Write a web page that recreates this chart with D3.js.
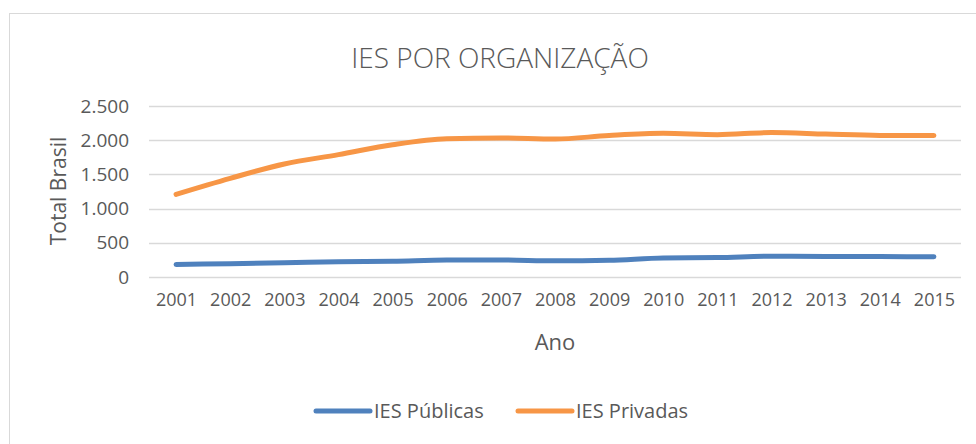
<!DOCTYPE html>
<html>
<head>
<meta charset="utf-8">
<script src="https://cdn.jsdelivr.net/npm/d3@7/dist/d3.min.js"></script>
<style>
  html, body { margin: 0; padding: 0; background: #fff; }
  svg { display: block; }
  svg text { font-family: "Open Sans", "Noto Sans", sans-serif; }
</style>
</head>
<body>
<svg id="chart" width="976" height="444"></svg>
<script>
// Instituições de ensino superior por organização, Brasil 2001–2015
const anos = ["2001","2002","2003","2004","2005","2006","2007","2008","2009","2010","2011","2012","2013","2014","2015"];
const publicas = [183, 195, 207, 224, 231, 248, 249, 236, 245, 278, 284, 304, 301, 298, 295];
const privadas = [1208, 1442, 1652, 1789, 1934, 2022, 2032, 2016, 2069, 2100, 2081, 2112, 2090, 2070, 2069];
const yTicks = [0, 500, 1000, 1500, 2000, 2500];
const seriesNames = ["IES Públicas", "IES Privadas"];
const seriesColors = ["#4F81BD", "#F79646"];

const series = [
  { name: seriesNames[0], values: publicas, color: seriesColors[0] },
  { name: seriesNames[1], values: privadas, color: seriesColors[1] }
];

const ptBR = d3.formatLocale({ decimal: ",", thousands: ".", grouping: [3], currency: ["R$", ""] });
const fmt = ptBR.format(",d");

const svg = d3.select("#chart");
const textColor = "#595959";
const fontFamily = '"Open Sans", "Noto Sans", sans-serif';

// chart frame
svg.append("rect")
  .attr("x", 9.5).attr("y", 13.5)
  .attr("width", 990).attr("height", 460)
  .attr("fill", "#fff").attr("stroke", "#d9d9d9").attr("stroke-width", 1);

const plot = { left: 149, right: 961, top: 106, bottom: 277 };

const x = d3.scalePoint().domain(anos).range([plot.left, plot.right]).padding(0.5);
const y = d3.scaleLinear().domain([0, 2500]).range([plot.bottom, plot.top]);

// title
svg.append("text")
  .attr("x", 500).attr("y", 68)
  .attr("text-anchor", "middle")
  .attr("fill", textColor)
  .style("font-size", "28px")
  .style("font-weight", 300)
  .text("IES POR ORGANIZAÇÃO");

// horizontal gridlines
svg.append("g").selectAll("line").data(yTicks).join("line")
  .attr("x1", plot.left).attr("x2", plot.right)
  .attr("y1", d => Math.round(y(d)) + 0.5).attr("y2", d => Math.round(y(d)) + 0.5)
  .attr("stroke", "#d9d9d9").attr("stroke-width", 1.5);

// y axis labels
const yAxis = d3.axisLeft(y).tickValues(yTicks).tickFormat(fmt).tickSize(0).tickPadding(20);
const gy = svg.append("g").attr("transform", `translate(${plot.left},0)`).call(yAxis)
  .attr("font-family", fontFamily).attr("font-size", 19);
gy.select(".domain").remove();
gy.selectAll("text").attr("fill", textColor);

// x axis labels
const xAxis = d3.axisBottom(x).tickSize(0).tickPadding(16);
const gx = svg.append("g").attr("transform", `translate(0,${plot.bottom})`).call(xAxis)
  .attr("font-family", fontFamily).attr("font-size", 18);
gx.select(".domain").remove();
gx.selectAll("text").attr("fill", textColor);

// axis titles
svg.append("text")
  .attr("transform", "translate(66,191) rotate(-90)")
  .attr("text-anchor", "middle")
  .attr("fill", textColor)
  .style("font-size", "21px")
  .text("Total Brasil");

svg.append("text")
  .attr("x", 555).attr("y", 350)
  .attr("text-anchor", "middle")
  .attr("fill", textColor)
  .style("font-size", "22px")
  .text("Ano");

// lines
const line = d3.line()
  .x((d, i) => x(anos[i]))
  .y(d => y(d))
  .curve(d3.curveMonotoneX);

svg.append("g").selectAll("path").data(series).join("path")
  .attr("d", d => line(d.values))
  .attr("fill", "none")
  .attr("stroke", d => d.color)
  .attr("stroke-width", 5)
  .attr("stroke-linecap", "round")
  .attr("stroke-linejoin", "round");

// legend
const legendX = [316, 518];
const legend = svg.append("g").selectAll("g").data(series).join("g")
  .attr("transform", (d, i) => `translate(${legendX[i]},411)`);
legend.append("line")
  .attr("x1", 0).attr("x2", 54).attr("y1", 0).attr("y2", 0)
  .attr("stroke", d => d.color).attr("stroke-width", 5).attr("stroke-linecap", "round");
legend.append("text")
  .attr("x", 58).attr("y", 0).attr("dy", "0.35em")
  .attr("fill", textColor)
  .style("font-size", "20px")
  .text(d => d.name);
</script>
</body>
</html>
